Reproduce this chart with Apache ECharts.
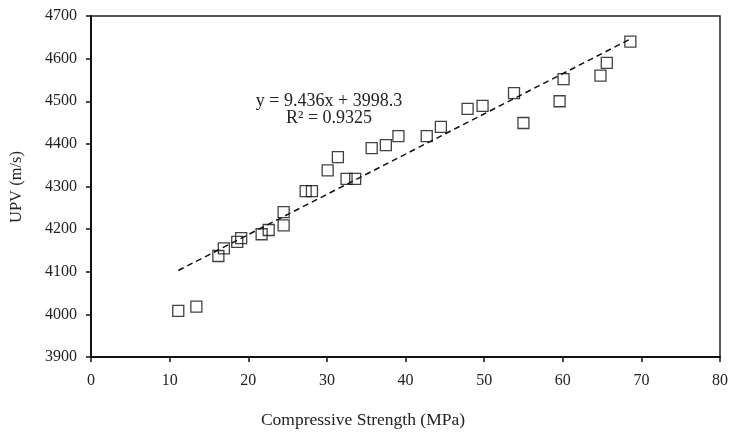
<!DOCTYPE html>
<html>
<head>
<meta charset="utf-8">
<script src="https://cdn.jsdelivr.net/npm/echarts@6/dist/echarts.min.js"></script>
<style>html,body{margin:0;padding:0;background:#fff}#c{width:732px;height:433px}</style>
</head>
<body>
<div id="c"></div>
<script>
var strength = [11.1, 13.4, 16.2, 16.9, 18.6, 19.1, 21.7, 22.6, 24.5, 24.5, 27.3, 28.1, 30.1, 31.4, 32.5, 33.6, 35.7, 37.5, 39.1, 42.7, 44.5, 47.9, 49.8, 53.8, 55.0, 59.6, 60.1, 64.8, 65.6, 68.6];
var upv = [4008, 4018, 4137, 4155, 4170, 4179, 4188, 4198, 4209, 4240, 4289, 4289, 4338, 4369, 4318, 4318, 4390, 4397, 4418, 4418, 4440, 4482, 4489, 4519, 4449, 4500, 4552, 4560, 4590, 4640];
var trendX = [11.1, 68.6];
var trendY = [4103, 4646];
var equationLines = ['y = 9.436x + 3998.3', 'R\u00B2 = 0.9325'];
var xTitle = 'Compressive Strength (MPa)';
var yTitle = 'UPV (m/s)';

var font = 'Liberation Serif';
var chart = echarts.init(document.getElementById('c'));
var pts = strength.map(function (x, i) { return [x, upv[i]]; });
var trend = trendX.map(function (x, i) { return [x, trendY[i]]; });

function txt(text, x, y, size, rot) {
  return {
    type: 'text', x: x, y: y, rotation: rot || 0,
    style: { text: text, fontFamily: font, fontSize: size, fill: '#222', align: 'center', verticalAlign: 'middle' }
  };
}

chart.setOption({
  animation: false,
  grid: { left: 91, right: 12, top: 16, bottom: 76, show: true, borderColor: '#222', borderWidth: 1.5 },
  xAxis: {
    type: 'value', min: 0, max: 80, interval: 10,
    axisLine: { show: true, lineStyle: { color: '#111', width: 2 } },
    axisTick: { show: true, length: 5, lineStyle: { color: '#111', width: 1.5 } },
    axisLabel: { fontFamily: font, fontSize: 16, color: '#222', margin: 16 },
    splitLine: { show: false }
  },
  yAxis: {
    type: 'value', min: 3900, max: 4700, interval: 100,
    axisLine: { show: true, onZero: false, lineStyle: { color: '#111', width: 2 } },
    axisTick: { show: true, length: 5, lineStyle: { color: '#111', width: 1.5 } },
    axisLabel: { fontFamily: font, fontSize: 16, color: '#222', margin: 14, formatter: function (v) { return String(v); } },
    splitLine: { show: false }
  },
  graphic: [
    txt(xTitle, 363, 420, 17.5, 0),
    txt(yTitle, 17, 187, 16.5, Math.PI / 2),
    txt(equationLines[0], 329, 101, 18, 0),
    txt(equationLines[1], 329, 118, 18, 0)
  ],
  series: [
    {
      type: 'line', data: trend, symbol: 'none', silent: true,
      lineStyle: { color: '#111', width: 1.5, type: [6, 4] }, z: 1
    },
    {
      type: 'scatter', data: pts, symbol: 'rect', symbolSize: 11,
      itemStyle: { color: 'rgba(255,255,255,0)', borderColor: '#111', borderWidth: 1.3 }, z: 2
    }
  ]
});
</script>
</body>
</html>
